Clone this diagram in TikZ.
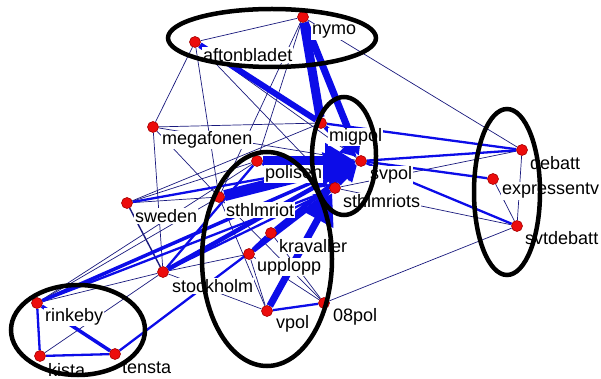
\documentclass[tikz,border=0pt]{standalone}
\usepackage{fontspec}
\setmainfont{Liberation Sans}
\usetikzlibrary{arrows.meta,backgrounds}
\definecolor{edgeblue}{RGB}{12,12,232}
\definecolor{edgenavy}{RGB}{25,25,125}
\definecolor{dotred}{RGB}{236,12,12}
\definecolor{dotrim}{RGB}{165,0,0}

\begin{document}
\begin{tikzpicture}[x=1pt,y=-1pt,
    dot/.style={circle,fill=dotred,draw=dotrim,line width=0.6pt,minimum size=11pt,inner sep=0pt},
    lbl/.style={fill=white,inner sep=1pt,anchor=west,font=\fontsize{18}{20}\selectfont},
    thinedge/.style={draw=edgenavy,line width=0.7pt},
    midedge/.style={draw=edgeblue,line width=2.3pt},
    thickedge/.style={draw=edgeblue,line width=4.5pt},
    fatedge/.style={draw=edgeblue,line width=9pt},
    head/.style={-{Triangle[length=16pt,width=16pt]}},
    bighead/.style={-{Triangle[length=30pt,width=34pt]}},
    group/.style={draw=black,line width=4.5pt}]
\useasboundingbox (0,0) rectangle (601,379);

% actors
\node[dot] (nymo) at (303,17) {};
\node[dot] (aftonbladet) at (195,42) {};
\node[dot] (megafonen) at (153,127) {};
\node[dot] (migpol) at (321,123) {};
\node[dot] (svpol) at (361,161) {};
\node[dot] (polisen) at (257,161) {};
\node[dot] (sthlmriots) at (335,188) {};
\node[dot] (sthlmriot) at (219,197) {};
\node[dot] (sweden) at (127,203) {};
\node[dot] (kravaller) at (271,233) {};
\node[dot] (upplopp) at (249,254) {};
\node[dot] (stockholm) at (163,272) {};
\node[dot] (debatt) at (522,150) {};
\node[dot] (expressentv) at (493,179) {};
\node[dot] (svtdebatt) at (517,226) {};
\node[dot] (rinkeby) at (37,303) {};
\node[dot] (kista) at (40,356) {};
\node[dot] (tensta) at (115,354) {};
\node[dot] (vpol) at (267,311) {};
\node[dot] (pol08) at (324,303) {};

% names
\node[lbl] (nymo-name) at ([shift={(8,15)}]nymo) {nymo};
\node[lbl] (aftonbladet-name) at ([shift={(7,13)}]aftonbladet) {aftonbladet};
\node[lbl] (megafonen-name) at ([shift={(8,13)}]megafonen) {megafonen};
\node[lbl] (migpol-name) at ([shift={(7,14)}]migpol) {migpol};
\node[lbl] (svpol-name) at ([shift={(8,14)}]svpol) {svpol};
\node[lbl] (polisen-name) at ([shift={(7,13)}]polisen) {polisen};
\node[lbl] (sthlmriots-name) at ([shift={(7,13)}]sthlmriots) {sthlmriots};
\node[lbl] (sthlmriot-name) at ([shift={(6,13)}]sthlmriot) {sthlmriot};
\node[lbl] (sweden-name) at ([shift={(7,13)}]sweden) {sweden};
\node[lbl] (kravaller-name) at ([shift={(7,13)}]kravaller) {kravaller};
\node[lbl] (upplopp-name) at ([shift={(7,13)}]upplopp) {upplopp};
\node[lbl] (stockholm-name) at ([shift={(8,14)}]stockholm) {stockholm};
\node[lbl] (debatt-name) at ([shift={(7,13)}]debatt) {debatt};
\node[lbl] (expressentv-name) at ([shift={(8,12)}]expressentv) {expressentv};
\node[lbl] (svtdebatt-name) at ([shift={(7,12)}]svtdebatt) {svtdebatt};
\node[lbl] (rinkeby-name) at ([shift={(7,14)}]rinkeby) {rinkeby};
\node[lbl] (kista-name) at ([shift={(7,14)}]kista) {kista};
\node[lbl] (tensta-name) at ([shift={(6,14)}]tensta) {tensta};
\node[lbl] (vpol-name) at ([shift={(8,13)}]vpol) {vpol};
\node[lbl] (pol08-name) at ([shift={(8,14)}]pol08) {08pol};

\begin{scope}[on background layer]
% weak ties
\draw[thinedge] (nymo) -- (aftonbladet);
\draw[thinedge] (nymo) -- (debatt);
\draw[thinedge] (nymo) -- (polisen);
\draw[thinedge] (nymo) -- (sthlmriot);
\draw[thinedge] (aftonbladet) -- (megafonen);
\draw[thinedge] (aftonbladet) -- (sthlmriot);
\draw[thinedge] (aftonbladet) -- (sthlmriots);
\draw[thinedge] (aftonbladet) -- (svpol);
\draw[thinedge] (megafonen) -- (migpol);
\draw[thinedge] (megafonen) -- (stockholm);
\draw[thinedge] (megafonen) -- (svpol);
\draw[thinedge] (megafonen) -- (sthlmriot);
\draw[thinedge] (sweden) -- (migpol);
\draw[thinedge] (sweden) -- (polisen);
\draw[thinedge] (sweden) -- (sthlmriot);
\draw[thinedge,line width=1.4pt] (sweden) -- (stockholm);
\draw[thinedge] (rinkeby) -- (sthlmriot);
\draw[thinedge] (rinkeby) -- (stockholm);
\draw[thinedge] (rinkeby) -- (polisen);
\draw[thinedge] (kista) -- (stockholm);
\draw[thinedge] (stockholm) -- (upplopp);
\draw[thinedge] (stockholm) -- (vpol);
\draw[thinedge] (sthlmriot) -- (vpol);
\draw[thinedge] (sthlmriot) -- (pol08);
\draw[thinedge] (upplopp) -- (vpol);
\draw[thinedge] (kravaller) -- (pol08);
\draw[thinedge] (upplopp) -- (pol08);
\draw[thinedge] (pol08) -- (svtdebatt);
\draw[thinedge] (sthlmriots) -- (svtdebatt);
\draw[thinedge] (sthlmriots) -- (debatt);
\draw[thinedge] (debatt) -- (svtdebatt);
\draw[thinedge] (expressentv) -- (svtdebatt);
% medium ties
\draw[midedge] (migpol) -- (debatt);
\draw[midedge] (svpol) -- (debatt);
\draw[midedge] (svpol) -- (expressentv);
\draw[midedge] (svpol) -- (svtdebatt);
\draw[midedge] (sweden) -- (svpol);
\draw[midedge] (rinkeby) -- (sthlmriots);
\draw[midedge] (stockholm) -- (sthlmriots);
\draw[midedge] (stockholm) -- (polisen);
\draw[midedge] (tensta) -- (sthlmriots);
\draw[midedge] (tensta) -- (kista);
\draw[midedge] (kista) -- (rinkeby);
\draw[midedge] (vpol) -- (pol08);
% strong ties
\draw[thickedge,line width=6pt] (aftonbladet) -- (migpol);
\draw[thickedge,line width=7pt,head] (nymo) -- (svpol);
\draw[thickedge,line width=3.5pt,head] (rinkeby) -- (svpol);
\draw[thickedge,head] (stockholm) -- (svpol);
\draw[thickedge,line width=3.5pt] (tensta) -- (rinkeby);
\draw[thickedge] (upplopp) -- (kravaller);
\draw[thickedge,head] (upplopp) -- (sthlmriots);
\draw[thickedge,head] (kravaller) -- (svpol);
\draw[thickedge,head] (migpol) -- (svpol);
\draw[thickedge,head] (polisen) -- (sthlmriots);
\draw[thickedge,head] (sthlmriots) -- (svpol);
\draw[fatedge] (nymo) -- (migpol);
\draw[fatedge,bighead] (polisen) -- (svpol);
\draw[fatedge,line width=11pt,bighead] (sthlmriot) -- (svpol);
\draw[fatedge,line width=7pt,bighead] (vpol) -- (sthlmriots);
\end{scope}

% groups
\draw[group] (272,38) ellipse [x radius=104pt,y radius=29pt];
\draw[group] (344,156) ellipse [x radius=32pt,y radius=59pt];
\draw[group] (267,259) ellipse [x radius=65pt,y radius=107pt];
\draw[group] (507,192) ellipse [x radius=33pt,y radius=83pt];
\draw[group] (78,330) ellipse [x radius=67pt,y radius=45pt];
\end{tikzpicture}
\end{document}
